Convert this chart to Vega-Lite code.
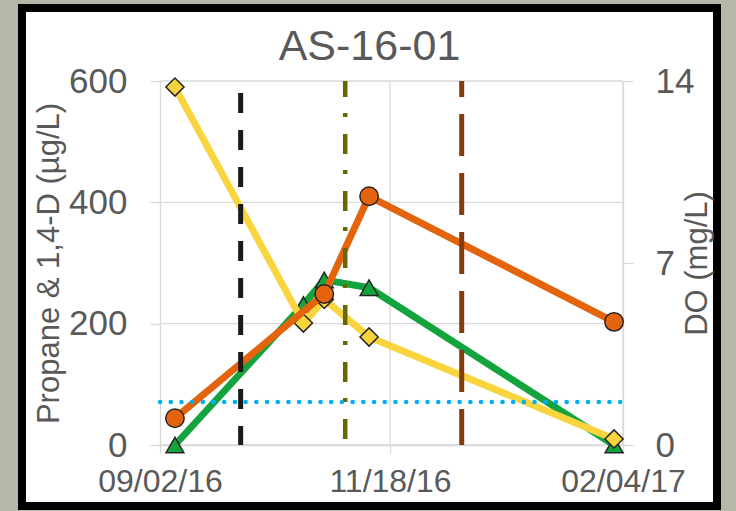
{
  "$schema": "https://vega.github.io/schema/vega-lite/v6.json",
  "width": 695,
  "height": 498,
  "autosize": {"type": "none"},
  "padding": {"left": 22, "top": 8, "right": 19, "bottom": 5},
  "background": "#b5b8a8",
  "config": {
    "view": {"fill": "#ffffff", "stroke": "#000000", "strokeWidth": 8},
    "font": "Liberation Sans"
  },
  "title": {
    "text": "AS-16-01",
    "fontSize": 43,
    "fontWeight": "normal",
    "color": "#595959",
    "anchor": "middle",
    "baseline": "alphabetic",
    "offset": -52,
    "dy": 43
  },
  "datasets": {
    "series": [
      {"date": "2016/09/07", "series": "1,4-D", "value": 590},
      {"date": "2016/10/20", "series": "1,4-D", "value": 201},
      {"date": "2016/10/27", "series": "1,4-D", "value": 240},
      {"date": "2016/11/11", "series": "1,4-D", "value": 178},
      {"date": "2017/02/01", "series": "1,4-D", "value": 10},
      {"date": "2016/09/07", "series": "Propane", "value": 44},
      {"date": "2016/10/27", "series": "Propane", "value": 249},
      {"date": "2016/11/11", "series": "Propane", "value": 410},
      {"date": "2017/02/01", "series": "Propane", "value": 203},
      {"date": "2016/09/07", "series": "DO", "value": 0},
      {"date": "2016/10/20", "series": "DO", "value": 5.4},
      {"date": "2016/10/27", "series": "DO", "value": 6.35},
      {"date": "2016/11/11", "series": "DO", "value": 6.05},
      {"date": "2017/02/01", "series": "DO", "value": 0}
    ],
    "hgrid": [
      {"gy": 0, "start": "2016/09/02", "end": "2017/02/04"},
      {"gy": 200, "start": "2016/09/02", "end": "2017/02/04"},
      {"gy": 400, "start": "2016/09/02", "end": "2017/02/04"},
      {"gy": 600, "start": "2016/09/02", "end": "2017/02/04"}
    ],
    "vgrid": [
      {"date": "2016/11/18", "gtop": 600, "gbot": 0},
      {"date": "2017/02/04", "gtop": 600, "gbot": 0}
    ],
    "events": [
      {"event": "black", "date": "2016/09/29", "top": 600, "bottom": 0},
      {"event": "olive", "date": "2016/11/03", "top": 600, "bottom": 0},
      {"event": "brown", "date": "2016/12/12", "top": 600, "bottom": 0}
    ],
    "threshold": [
      {"value": 71, "start": "2016/09/02", "end": "2017/02/04"}
    ]
  },
  "resolve": {"scale": {"y": "independent"}},
  "layer": [
    {
      "layer": [
        {
          "data": {"name": "hgrid"},
          "mark": {"type": "rule", "color": "#d9d9d9", "strokeWidth": 1.3},
          "encoding": {
            "x": {"field": "start", "type": "temporal", "title": null,
                  "scale": {"domain": [{"year": 2016, "month": 9, "date": 2}, {"year": 2017, "month": 2, "date": 4}], "range": [138, 601], "nice": false}},
            "x2": {"field": "end"},
            "y": {"field": "gy", "type": "quantitative", "axis": null,
                  "scale": {"domain": [0, 600], "range": [437, 73], "nice": false, "zero": false}}
          }
        },
        {
          "data": {"name": "vgrid"},
          "mark": {"type": "rule", "color": "#d9d9d9", "strokeWidth": 1.3},
          "encoding": {
            "x": {"field": "date", "type": "temporal", "title": null},
            "y": {"field": "gtop", "type": "quantitative", "axis": null},
            "y2": {"field": "gbot"}
          }
        }
      ]
    },
    {
      "data": {"name": "series"},
      "transform": [{"filter": "datum.series === 'DO'"}],
      "layer": [
        {
          "mark": {"type": "line", "color": "#13A43D", "strokeWidth": 7, "strokeJoin": "round"},
          "encoding": {
            "x": {"field": "date", "type": "temporal", "title": null},
            "y": {"field": "value", "type": "quantitative",
                  "scale": {"domain": [0, 14], "range": [437, 73], "nice": false, "zero": false},
                  "axis": {
                    "orient": "right", "values": [0, 7, 14], "offset": -94, "grid": false,
                    "domain": true, "domainColor": "#d9d9d9", "domainWidth": 1.3,
                    "ticks": true, "tickSize": 10, "tickColor": "#d9d9d9", "tickWidth": 1.3,
                    "labelFontSize": 35, "labelColor": "#595959", "labelPadding": 22, "labelOverlap": false,
                    "title": "DO (mg/L)", "titleFontSize": 31, "titleFontWeight": "normal", "titleColor": "#595959",
                    "titleAngle": 270, "titlePadding": 20
                  }}
          }
        },
        {
          "mark": {"type": "point", "shape": "triangle-up", "filled": true, "fill": "#13A43D", "stroke": "#262626", "strokeWidth": 1.5, "size": 320, "opacity": 1},
          "encoding": {
            "x": {"field": "date", "type": "temporal", "title": null},
            "y": {"field": "value", "type": "quantitative"}
          }
        }
      ]
    },
    {
      "layer": [
        {
          "data": {"name": "series"},
          "transform": [{"filter": "datum.series === '1,4-D'"}],
          "mark": {"type": "line", "color": "#F8D53F", "strokeWidth": 7, "strokeJoin": "round"},
          "encoding": {
            "x": {"field": "date", "type": "temporal", "title": null,
                  "axis": {
                    "values": [{"year": 2016, "month": 9, "date": 2}, {"year": 2016, "month": 11, "date": 18}, {"year": 2017, "month": 2, "date": 4}],
                    "format": "%m/%d/%y", "offset": -61, "grid": false,
                    "domain": true, "domainColor": "#d9d9d9", "domainWidth": 1.3,
                    "ticks": true, "tickSize": 8, "tickColor": "#d9d9d9", "tickWidth": 1.3,
                    "labelFontSize": 32, "labelColor": "#595959", "labelPadding": 13,
                    "labelFlush": false, "labelOverlap": false, "title": null
                  }},
            "y": {"field": "value", "type": "quantitative",
                  "scale": {"domain": [0, 600], "range": [437, 73], "nice": false, "zero": false},
                  "axis": {
                    "orient": "left", "values": [0, 200, 400, 600], "offset": -138, "grid": false,
                    "domain": true, "domainColor": "#d9d9d9", "domainWidth": 1.3,
                    "ticks": true, "tickSize": 10, "tickColor": "#d9d9d9", "tickWidth": 1.3,
                    "labelFontSize": 35, "labelColor": "#595959", "labelPadding": 23, "labelOverlap": false,
                    "title": "Propane & 1,4-D (µg/L)", "titleFontSize": 31, "titleFontWeight": "normal", "titleColor": "#595959",
                    "titlePadding": 3
                  }}
          }
        },
        {
          "data": {"name": "series"},
          "transform": [{"filter": "datum.series === '1,4-D'"}],
          "mark": {"type": "point", "shape": "diamond", "filled": true, "fill": "#F8D53F", "stroke": "#262626", "strokeWidth": 1.5, "size": 330, "opacity": 1},
          "encoding": {
            "x": {"field": "date", "type": "temporal", "title": null},
            "y": {"field": "value", "type": "quantitative"}
          }
        },
        {
          "data": {"name": "series"},
          "transform": [{"filter": "datum.series === 'Propane'"}],
          "mark": {"type": "line", "color": "#E4640E", "strokeWidth": 7, "strokeJoin": "round"},
          "encoding": {
            "x": {"field": "date", "type": "temporal", "title": null},
            "y": {"field": "value", "type": "quantitative"}
          }
        },
        {
          "data": {"name": "series"},
          "transform": [{"filter": "datum.series === 'Propane'"}],
          "mark": {"type": "point", "shape": "circle", "filled": true, "fill": "#E4640E", "stroke": "#262626", "strokeWidth": 1.5, "size": 340, "opacity": 1},
          "encoding": {
            "x": {"field": "date", "type": "temporal", "title": null},
            "y": {"field": "value", "type": "quantitative"}
          }
        },
        {
          "data": {"name": "events"},
          "transform": [{"filter": "datum.event === 'black'"}],
          "mark": {"type": "rule", "color": "#1a1a1a", "strokeWidth": 5, "strokeDash": [20, 17], "strokeDashOffset": 25},
          "encoding": {
            "x": {"field": "date", "type": "temporal", "title": null},
            "y": {"field": "top", "type": "quantitative"},
            "y2": {"field": "bottom"}
          }
        },
        {
          "data": {"name": "events"},
          "transform": [{"filter": "datum.event === 'olive'"}],
          "mark": {"type": "rule", "color": "#676700", "strokeWidth": 4.5, "strokeDash": [20, 16, 4, 17], "strokeDashOffset": 4},
          "encoding": {
            "x": {"field": "date", "type": "temporal", "title": null},
            "y": {"field": "top", "type": "quantitative"},
            "y2": {"field": "bottom"}
          }
        },
        {
          "data": {"name": "events"},
          "transform": [{"filter": "datum.event === 'brown'"}],
          "mark": {"type": "rule", "color": "#843C0C", "strokeWidth": 5, "strokeDash": [42, 17], "strokeDashOffset": 26},
          "encoding": {
            "x": {"field": "date", "type": "temporal", "title": null},
            "y": {"field": "top", "type": "quantitative"},
            "y2": {"field": "bottom"}
          }
        },
        {
          "data": {"name": "threshold"},
          "mark": {"type": "rule", "color": "#00B0F0", "strokeWidth": 4.5, "strokeDash": [0.1, 10.6], "strokeCap": "round"},
          "encoding": {
            "x": {"field": "start", "type": "temporal", "title": null},
            "x2": {"field": "end"},
            "y": {"field": "value", "type": "quantitative"}
          }
        }
      ]
    }
  ]
}
